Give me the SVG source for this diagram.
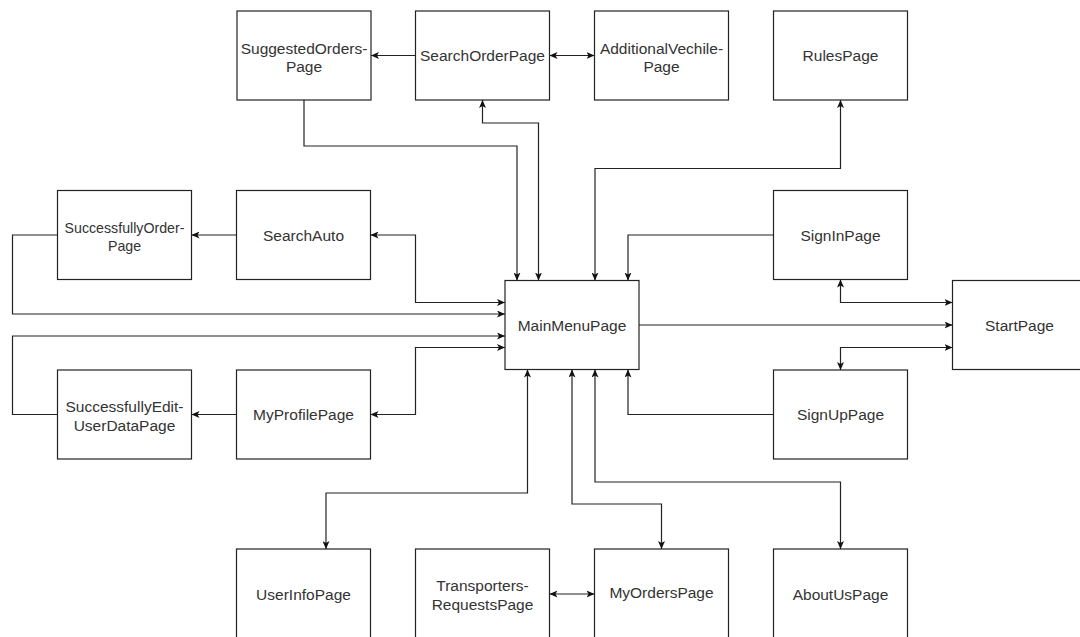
<svg xmlns="http://www.w3.org/2000/svg" width="1080" height="637" viewBox="0 0 1080 637">
<style>
.box{fill:#fff;stroke:#222;stroke-width:1.2}
.t{font-family:"Liberation Sans",Arial,sans-serif;font-size:15.5px;fill:#333;text-anchor:middle}
.ts{font-size:14.2px}
.c{fill:none;stroke:#222;stroke-width:1.2}
.e{marker-end:url(#ah)}
.b{marker-start:url(#ah);marker-end:url(#ah)}
</style>
<defs>
<marker id="ah" markerUnits="userSpaceOnUse" viewBox="0 0 8 7" markerWidth="8" markerHeight="7" refX="8" refY="3.5" orient="auto-start-reverse">
<path d="M0,0 L8,3.5 L0,7 L2,3.5 Z" fill="#111"/>
</marker>
</defs>
<rect width="1080" height="637" fill="#fff"/>
<g id="connectors">
<path class="c e" d="M415.5,55.5 H371"/>
<path class="c b" d="M549.5,55.5 H594.5"/>
<path class="c e" d="M304,100 V146 H517 V280.5"/>
<path class="c b" d="M538.5,280.5 V123 H482.5 V100"/>
<path class="c b" d="M595,280.5 V168.5 H840.5 V100"/>
<path class="c e" d="M773.5,235 H628 V280.5"/>
<path class="c b" d="M840.5,279.5 V302.5 H952.5"/>
<path class="c e" d="M639,325 H952.5"/>
<path class="c b" d="M952.5,347.5 H840.5 V370"/>
<path class="c e" d="M773.5,414.5 H628 V369.5"/>
<path class="c b" d="M527.5,369.5 V493 H326 V549"/>
<path class="c b" d="M572,369.5 V504 H661.5 V549"/>
<path class="c b" d="M595,369.5 V482 H840.5 V549"/>
<path class="c b" d="M549.5,594 H594.5"/>
<path class="c b" d="M370.5,235 H415.5 V302.5 H505"/>
<path class="c e" d="M57.5,235 H12.5 V314 H505"/>
<path class="c e" d="M236.5,235 H191.5"/>
<path class="c e" d="M57.5,414.5 H12.5 V336 H505"/>
<path class="c b" d="M370.5,414.5 H415.5 V347.5 H505"/>
<path class="c e" d="M236.5,414.5 H191.5"/>
</g>
<g id="SuggestedOrdersPage"><rect class="box" x="237" y="11" width="134" height="89"/><text class="t" x="304" y="53.5">SuggestedOrders-</text><text class="t" x="304" y="72">Page</text></g>
<g id="SearchOrderPage"><rect class="box" x="415.5" y="11" width="134" height="89"/><text class="t" x="482.5" y="61">SearchOrderPage</text></g>
<g id="AdditionalVechilePage"><rect class="box" x="594.5" y="11" width="134" height="89"/><text class="t" x="661.5" y="53.5">AdditionalVechile-</text><text class="t" x="661.5" y="72">Page</text></g>
<g id="RulesPage"><rect class="box" x="773.5" y="11" width="134" height="89"/><text class="t" x="840.5" y="61">RulesPage</text></g>
<g id="SuccessfullyOrderPage"><rect class="box" x="57.5" y="190.5" width="134" height="89"/><text class="t ts" x="124.5" y="233.4">SuccessfullyOrder-</text><text class="t ts" x="124.5" y="250.8">Page</text></g>
<g id="SearchAuto"><rect class="box" x="236.5" y="190.5" width="134" height="89"/><text class="t" x="303.5" y="240.5">SearchAuto</text></g>
<g id="SignInPage"><rect class="box" x="773.5" y="190.5" width="134" height="89"/><text class="t" x="840.5" y="240.5">SignInPage</text></g>
<g id="MainMenuPage"><rect class="box" x="505" y="280.5" width="134" height="89"/><text class="t" x="572" y="330.5">MainMenuPage</text></g>
<g id="StartPage"><rect class="box" x="952.5" y="280.5" width="134" height="89"/><text class="t" x="1019.5" y="330.5">StartPage</text></g>
<g id="SuccessfullyEditUserDataPage"><rect class="box" x="57.5" y="370" width="134" height="89"/><text class="t" x="124.5" y="412.4">SuccessfullyEdit-</text><text class="t" x="124.5" y="430.8">UserDataPage</text></g>
<g id="MyProfilePage"><rect class="box" x="236.5" y="370" width="134" height="89"/><text class="t" x="303.5" y="420">MyProfilePage</text></g>
<g id="SignUpPage"><rect class="box" x="773.5" y="370" width="134" height="89"/><text class="t" x="840.5" y="420">SignUpPage</text></g>
<g id="UserInfoPage"><rect class="box" x="236.5" y="549" width="134" height="89"/><text class="t" x="303.5" y="599.5">UserInfoPage</text></g>
<g id="TransportersRequestsPage"><rect class="box" x="415.5" y="549" width="134" height="89"/><text class="t" x="482.5" y="590.5">Transporters-</text><text class="t" x="482.5" y="609.5">RequestsPage</text></g>
<g id="MyOrdersPage"><rect class="box" x="594.5" y="549" width="134" height="89"/><text class="t" x="661.5" y="597.5">MyOrdersPage</text></g>
<g id="AboutUsPage"><rect class="box" x="773.5" y="549" width="134" height="89"/><text class="t" x="840.5" y="599.5">AboutUsPage</text></g>
</svg>
